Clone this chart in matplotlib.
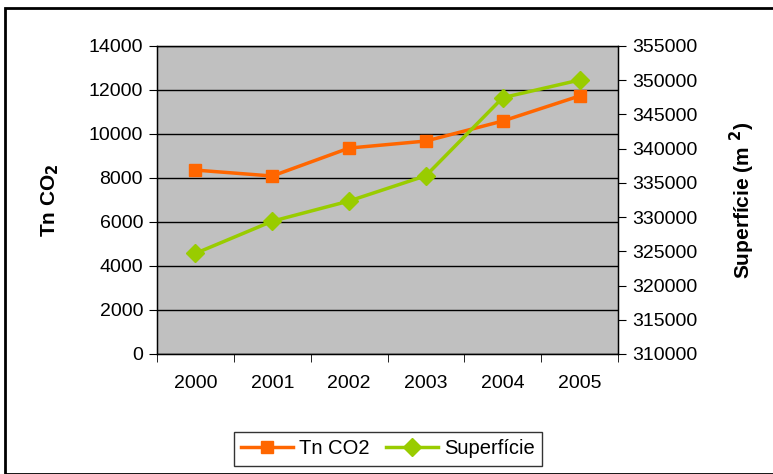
import numpy as np
import matplotlib.pyplot as plt
from matplotlib.patches import Rectangle

plt.rcParams['font.family'] = ['Liberation Sans', 'DejaVu Sans']

years = ['2000', '2001', '2002', '2003', '2004', '2005']
tn_co2 = [8360, 8090, 9360, 9680, 10590, 11730]
superficie = [324700, 329400, 332350, 336050, 347450, 350030]

orange = '#FF6600'
green = '#99CC00'

fig = plt.figure(figsize=(7.73, 4.74), dpi=100)
ax = fig.add_axes([157/773, 1 - 354/474, (618-157)/773, (354-46)/474])
ax.set_facecolor('#C0C0C0')

x = np.arange(len(years))
ax.set_xlim(-0.5, len(years) - 0.5)
ax.set_ylim(0, 14000)
ax.set_yticks(np.arange(0, 14001, 2000))
ax.yaxis.grid(True, color='black', lw=1)
ax.set_axisbelow(True)
ax.set_xticks(x)
ax.set_xticklabels(years)
ax.set_xticks(np.arange(-0.5, len(years)), minor=True)
ax.tick_params(axis='x', which='major', length=0, pad=15, labelsize=14)
ax.tick_params(axis='x', which='minor', length=6, direction='out', color='black')
ax.tick_params(axis='y', length=6, direction='out', labelsize=14, pad=4)
for s in ax.spines.values():
    s.set_color('black')
    s.set_linewidth(1)
ax.set_ylabel('Tn CO$_\\mathbf{2}$', fontsize=15, fontweight='bold', labelpad=20)

l1, = ax.plot(x, tn_co2, color=orange, lw=2.5, marker='s', markersize=8, label='Tn CO2', zorder=3)

ax2 = ax.twinx()
ax2.set_ylim(310000, 355000)
ax2.set_yticks(np.arange(310000, 355001, 5000))
ax2.tick_params(axis='y', length=6, direction='out', labelsize=14, pad=4)
ax2.set_ylabel('Superfície (m $^\\mathbf{2}$)', fontsize=15, fontweight='bold', labelpad=22)
l2, = ax2.plot(x, superficie, color=green, lw=2.5, marker='D', markersize=9, label='Superfície', zorder=3)

fig.legend(handles=[l1, l2], loc='center', bbox_to_anchor=(388/773, 1 - 449/474), ncol=2,
           frameon=True, fancybox=False, edgecolor='black', fontsize=14.5,
           handlelength=2.6, columnspacing=0.8, handletextpad=0.3, borderpad=0.35)

fig.patches.append(Rectangle((5/773, 0.0), 1.0, 1 - 8/474, transform=fig.transFigure,
                             fill=False, edgecolor='black', lw=2))

fig.savefig('out.png', dpi=100)
